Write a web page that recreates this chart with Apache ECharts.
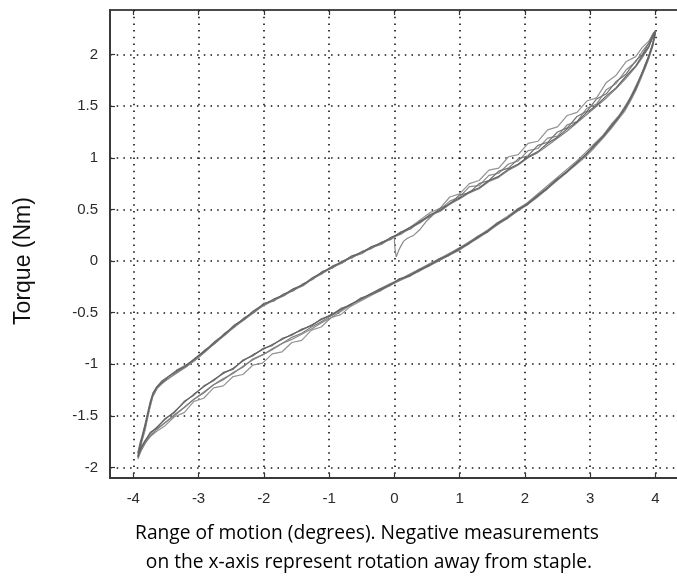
<!DOCTYPE html>
<html>
<head>
<meta charset="utf-8">
<script src="https://cdn.jsdelivr.net/npm/echarts@6/dist/echarts.min.js"></script>
<style>
  html, body { margin: 0; padding: 0; background: #ffffff; overflow: hidden; }
  #chart { width: 700px; height: 585px; }
</style>
</head>
<body>
<div id="chart"></div>
<script>
// Tick positions and titles
const xTicks = [-4, -3, -2, -1, 0, 1, 2, 3, 4];
const yTicks = [-2, -1.5, -1, -0.5, 0, 0.5, 1, 1.5, 2];
const xTitleLines = ['Range of motion (degrees). Negative measurements',
                     'on the x-axis represent rotation away from staple.'];
const yTitle = 'Torque (Nm)';

// Rotation angles (degrees) sampled on the rightward sweep (upper branch)
const upX = [-3.93,-3.9,-3.86,-3.82,-3.78,-3.74,-3.7,-3.64,-3.56,-3.46,-3.34,-3.2,-3.05,-2.9,-2.75,-2.6,-2.45,-2.3,-2.15,-2.0,
             -1.85,-1.7,-1.55,-1.4,-1.25,-1.1,-0.95,-0.8,-0.65,-0.5,-0.35,-0.2,-0.05,0.1,0.25,0.4,0.55,0.7,0.85,1.0,
             1.15,1.3,1.45,1.6,1.75,1.9,2.05,2.2,2.35,2.5,2.65,2.8,2.95,3.1,3.25,3.4,3.55,3.7,3.8,3.9,3.97,4.0];
// Rotation angles (degrees) sampled on the leftward sweep (lower branch)
const lowX = [4.0,3.96,3.9,3.84,3.77,3.7,3.62,3.53,3.43,3.32,3.2,3.07,2.93,2.78,2.63,2.48,2.33,2.18,2.03,1.88,
              1.73,1.58,1.43,1.28,1.13,0.98,0.83,0.68,0.53,0.38,0.23,0.08,-0.07,-0.22,-0.37,-0.52,-0.67,-0.82,-0.97,-1.12,
              -1.27,-1.42,-1.57,-1.72,-1.87,-2.02,-2.17,-2.32,-2.47,-2.62,-2.77,-2.92,-3.07,-3.22,-3.37,-3.52,-3.64,-3.74,-3.82,-3.88,-3.93];

// Torque (Nm), trial A
const upA = [-1.89,-1.81,-1.70,-1.60,-1.49,-1.38,-1.29,-1.22,-1.18,-1.12,-1.07,-1.02,-0.94,-0.87,-0.78,-0.71,-0.62,-0.56,-0.48,-0.42,
             -0.37,-0.33,-0.27,-0.23,-0.16,-0.11,-0.05,-0.01,0.05,0.08,0.14,0.17,0.23,0.27,0.33,0.38,0.45,0.49,0.56,0.61,
             0.67,0.71,0.78,0.82,0.89,0.94,1.01,1.06,1.14,1.20,1.28,1.35,1.44,1.51,1.60,1.68,1.79,1.89,1.99,2.08,2.19,2.22];
const lowA = [2.21,2.09,1.98,1.88,1.78,1.67,1.58,1.47,1.39,1.30,1.21,1.12,1.03,0.94,0.86,0.78,0.70,0.62,0.55,0.49,
              0.42,0.36,0.29,0.23,0.17,0.11,0.06,0.01,-0.04,-0.09,-0.14,-0.18,-0.23,-0.28,-0.32,-0.37,-0.42,-0.47,-0.52,-0.57,
              -0.62,-0.67,-0.71,-0.76,-0.81,-0.86,-0.91,-0.97,-1.04,-1.09,-1.15,-1.22,-1.29,-1.37,-1.46,-1.54,-1.61,-1.67,-1.74,-1.81,-1.89];

// Torque (Nm), trial B
const upB = [-1.86,-1.77,-1.68,-1.58,-1.47,-1.36,-1.28,-1.22,-1.16,-1.12,-1.06,-1.01,-0.95,-0.86,-0.80,-0.70,-0.64,-0.55,-0.50,-0.41,
             -0.39,-0.32,-0.29,-0.22,-0.18,-0.10,-0.07,0.00,0.03,0.09,0.12,0.18,0.21,0.28,0.31,0.39,0.43,0.51,0.55,0.64,
             0.66,0.75,0.78,0.87,0.90,0.99,1.02,1.12,1.15,1.25,1.29,1.40,1.45,1.57,1.62,1.74,1.81,1.94,2.00,2.11,2.20,2.23];
const lowB = [2.22,2.11,1.99,1.90,1.77,1.69,1.57,1.49,1.38,1.31,1.20,1.13,1.02,0.95,0.85,0.79,0.69,0.63,0.54,0.50,
              0.41,0.37,0.28,0.24,0.16,0.12,0.05,0.02,-0.05,-0.08,-0.15,-0.17,-0.24,-0.27,-0.33,-0.36,-0.43,-0.46,-0.53,-0.56,
              -0.63,-0.66,-0.72,-0.75,-0.82,-0.85,-0.92,-0.96,-1.05,-1.08,-1.16,-1.21,-1.30,-1.36,-1.47,-1.53,-1.62,-1.66,-1.75,-1.80,-1.90];

// Torque (Nm), trial C
const upC = [-1.90,-1.83,-1.73,-1.64,-1.52,-1.41,-1.31,-1.24,-1.19,-1.14,-1.09,-1.03,-0.96,-0.88,-0.80,-0.72,-0.64,-0.57,-0.50,-0.43,
             -0.38,-0.34,-0.28,-0.24,-0.17,-0.12,-0.06,-0.02,0.04,0.09,0.13,0.18,0.22,0.28,0.33,0.40,0.47,0.51,0.62,0.65,
             0.75,0.78,0.88,0.90,1.01,1.03,1.14,1.16,1.27,1.30,1.41,1.44,1.55,1.58,1.73,1.80,1.93,1.98,2.07,2.13,2.21,2.23];
const lowC = [2.20,2.08,1.96,1.86,1.75,1.65,1.55,1.45,1.37,1.28,1.19,1.10,1.01,0.93,0.85,0.77,0.69,0.61,0.54,0.48,
              0.41,0.35,0.28,0.22,0.16,0.10,0.05,0.00,-0.05,-0.10,-0.15,-0.19,-0.24,-0.29,-0.34,-0.39,-0.44,-0.52,-0.55,-0.64,
              -0.67,-0.77,-0.79,-0.88,-0.90,-0.99,-1.01,-1.10,-1.12,-1.21,-1.23,-1.33,-1.36,-1.47,-1.51,-1.60,-1.65,-1.70,-1.77,-1.84,-1.92];

// Trial D starts mid-range, near zero rotation
const upDX = [0.0,0.01,0.03,0.08,0.14,0.2,0.3,0.4,0.5,0.6,0.7,0.85,1.0,1.15,1.3,1.45,1.6,1.75,1.9,2.05,
              2.2,2.35,2.5,2.65,2.8,2.95,3.1,3.25,3.4,3.55,3.7,3.8,3.9,3.97,4.0];
const upD = [0.22,0.12,0.04,0.12,0.19,0.22,0.25,0.31,0.39,0.45,0.50,0.58,0.62,0.72,0.73,0.83,0.85,0.94,0.97,1.07,
             1.09,1.19,1.21,1.32,1.35,1.48,1.52,1.66,1.72,1.85,1.93,2.03,2.11,2.20,2.22];
const lowD = [2.22,2.10,1.99,1.89,1.79,1.69,1.59,1.49,1.40,1.32,1.22,1.14,1.05,0.96,0.88,0.80,0.72,0.64,0.56,0.50,
              0.43,0.37,0.30,0.24,0.18,0.12,0.07,0.02,-0.03,-0.08,-0.13,-0.18,-0.22,-0.27,-0.32,-0.37,-0.43,-0.49,-0.55,-0.60,
              -0.66,-0.71,-0.76,-0.80,-0.86,-0.91,-0.96,-1.02,-1.09,-1.14,-1.20,-1.27,-1.34,-1.42,-1.50,-1.57,-1.63,-1.69,-1.76,-1.83,-1.91];

// Torque (Nm), trial E
const upE = [-1.87,-1.79,-1.72,-1.63,-1.51,-1.40,-1.31,-1.24,-1.17,-1.14,-1.08,-1.03,-0.96,-0.88,-0.79,-0.72,-0.63,-0.57,-0.49,-0.43,
             -0.38,-0.34,-0.28,-0.24,-0.17,-0.12,-0.06,-0.02,0.04,0.07,0.13,0.16,0.22,0.26,0.32,0.37,0.44,0.48,0.55,0.60,
             0.66,0.70,0.77,0.81,0.88,0.93,1.00,1.05,1.12,1.19,1.26,1.34,1.42,1.50,1.58,1.67,1.77,1.88,1.97,2.07,2.18,2.21];
const lowE = [2.21,2.09,1.97,1.87,1.77,1.66,1.56,1.47,1.38,1.29,1.20,1.11,1.03,0.94,0.86,0.78,0.70,0.63,0.55,0.48,
              0.42,0.35,0.29,0.22,0.17,0.10,0.06,0.00,-0.04,-0.10,-0.14,-0.19,-0.23,-0.29,-0.33,-0.38,-0.42,-0.48,-0.53,-0.59,
              -0.64,-0.70,-0.74,-0.80,-0.85,-0.91,-0.95,-1.03,-1.08,-1.15,-1.20,-1.28,-1.34,-1.42,-1.49,-1.57,-1.63,-1.70,-1.76,-1.83,-1.90];

function zip(xs, ys) { return xs.map((x, i) => [x, ys[i]]); }
function loop(ux, uy, lx, ly) { return zip(ux, uy).concat(zip(lx, ly)); }

const trials = [
  { data: loop(upX, upC, lowX, lowC), color: '#939393' },
  { data: loop(upDX, upD, lowX, lowD), color: '#8a8a8a' },
  { data: loop(upX, upE, lowX, lowE), color: '#808080' },
  { data: loop(upX, upB, lowX, lowB), color: '#747474' },
  { data: loop(upX, upA, lowX, lowA), color: '#626262' }
];

const dotted = { color: '#111111', width: 1.6, type: [1.5, 5.2] };
const labelFont = { color: '#2b2b2b', fontFamily: 'Liberation Sans, Arial, sans-serif', fontSize: 15 };
const axisDark = { color: '#3a3a3a', width: 2 };

const chart = echarts.init(document.getElementById('chart'), null, { renderer: 'canvas' });
chart.setOption({
  animation: false,
  backgroundColor: '#ffffff',
  grid: { left: 110, top: 10, width: 581, height: 468,
          show: true, borderColor: '#4a4a4a', borderWidth: 2, backgroundColor: 'transparent' },
  xAxis: [{
    type: 'value', min: -4.357, max: 4.547, position: 'bottom',
    axisLine: { show: true, onZero: false, lineStyle: axisDark },
    axisTick: { show: true, inside: true, length: 5, customValues: xTicks, lineStyle: { color: '#333', width: 1.2 } },
    axisLabel: { customValues: xTicks, margin: 13, formatter: v => String(v), ...labelFont },
    splitLine: { show: true, lineStyle: dotted }
  }, {
    type: 'value', min: -4.357, max: 4.547, position: 'top',
    axisLine: { show: false, onZero: false },
    axisTick: { show: true, inside: true, length: 5, customValues: xTicks, lineStyle: { color: '#333', width: 1.2 } },
    axisLabel: { show: false },
    splitLine: { show: false }
  }],
  yAxis: {
    type: 'value', min: -2.103, max: 2.432,
    axisLine: { show: true, onZero: false, lineStyle: axisDark },
    axisTick: { show: true, inside: true, length: 5, customValues: yTicks, lineStyle: { color: '#333', width: 1.2 } },
    axisLabel: { customValues: yTicks, margin: 12, formatter: v => String(v), ...labelFont },
    splitLine: { show: true, lineStyle: dotted }
  },
  graphic: [
    { type: 'text', x: 367, y: 534,
      style: { text: xTitleLines[0], textAlign: 'center', textVerticalAlign: 'middle',
               font: '19.2px "Open Sans", sans-serif', fill: '#000' } },
    { type: 'text', x: 369, y: 563,
      style: { text: xTitleLines[1], textAlign: 'center', textVerticalAlign: 'middle',
               font: '19.2px "Open Sans", sans-serif', fill: '#000' } },
    { type: 'text', x: 24, y: 261, rotation: Math.PI / 2,
      style: { text: yTitle, textAlign: 'center', textVerticalAlign: 'middle',
               font: '23px "Liberation Sans", Arial, sans-serif', fill: '#111' } }
  ],
  series: trials.map(t => ({
    type: 'line', xAxisIndex: 0, showSymbol: false, symbol: 'none', clip: true,
    data: t.data,
    lineStyle: { color: t.color, width: 1.2 }
  }))
});
</script>
</body>
</html>
